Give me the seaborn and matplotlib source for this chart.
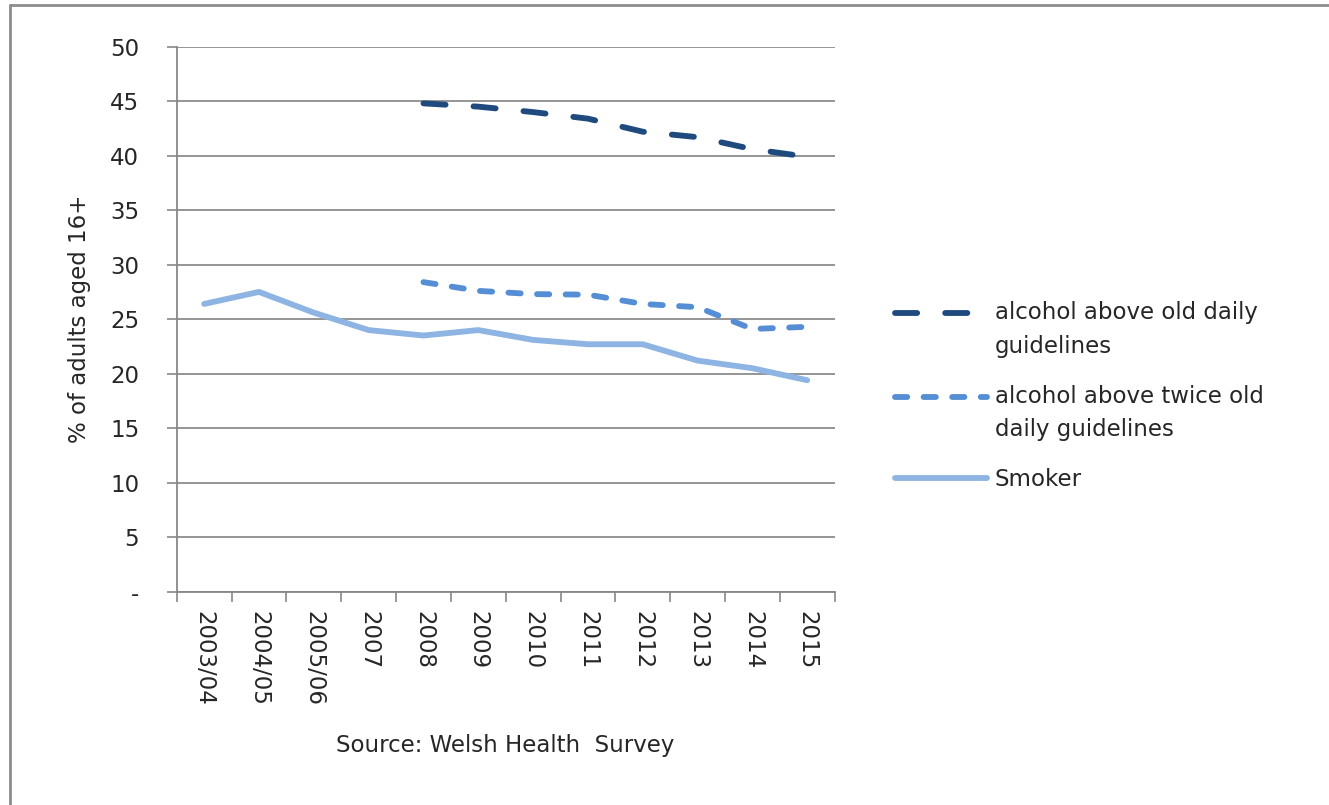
import numpy as np
import pandas as pd
import matplotlib
matplotlib.use('Agg')
import matplotlib.pyplot as plt
import seaborn as sns
from matplotlib.ticker import FuncFormatter, FixedLocator
from matplotlib.lines import Line2D

years = ['2003/04', '2004/05', '2005/06', '2007', '2008', '2009',
         '2010', '2011', '2012', '2013', '2014', '2015']
alcohol_old = [np.nan, np.nan, np.nan, np.nan, 44.8, 44.5, 44.0, 43.4, 42.2, 41.7, 40.6, 39.9]
alcohol_twice = [np.nan, np.nan, np.nan, np.nan, 28.4, 27.6, 27.3, 27.25, 26.4, 26.1, 24.1, 24.3]
smoker = [26.4, 27.5, 25.6, 24.0, 23.5, 24.0, 23.1, 22.7, 22.7, 21.2, 20.5, 19.4]

series_names = ['alcohol above old daily\nguidelines',
                'alcohol above twice old\ndaily guidelines',
                'Smoker']
colors = ['#1F4A7E', '#558ED5', '#8DB4E2']

rows = []
for name, vals in zip(series_names, [alcohol_old, alcohol_twice, smoker]):
    for i, v in enumerate(vals):
        if not np.isnan(v):
            rows.append({'pos': i, 'value': v, 'series': name})
df = pd.DataFrame(rows)

sns.set_style('white')
plt.rcParams['font.family'] = ['DejaVu Sans']
FS = 16.5
TXT = '#262626'

fig = plt.figure(figsize=(13.29, 8.05), dpi=100)
ax = fig.add_axes([0.133, 0.265, 0.495, 0.677])

lw = 4.2
dark_dash = (3.8, 4.8)
mid_dash = (2.1, 2.8)
dashes = {series_names[0]: dark_dash, series_names[1]: mid_dash, series_names[2]: ''}
sns.lineplot(data=df, x='pos', y='value', hue='series', style='series',
             hue_order=series_names, style_order=series_names,
             palette=dict(zip(series_names, colors)), dashes=dashes,
             linewidth=lw, legend=False, ax=ax)
for ln in ax.get_lines():
    ln.set_dash_capstyle('round')
    ln.set_solid_capstyle('round')
    ln.set_solid_joinstyle('round')

ax.set_xlim(-0.5, len(years) - 0.5)
ax.set_ylim(0, 50)
ax.set_yticks(np.arange(0, 51, 5))
ax.yaxis.set_major_formatter(FuncFormatter(lambda v, p: '-' if v == 0 else f'{int(v)}'))
ax.set_xticks(np.arange(len(years)))
ax.set_xticklabels(years, rotation=-90, fontsize=FS, color=TXT)
ax.xaxis.set_minor_locator(FixedLocator(np.arange(-0.5, len(years), 1.0)))
ax.tick_params(axis='x', which='major', length=0, pad=14)
ax.tick_params(axis='x', which='minor', length=7, width=1.2, color='#888888', direction='out', bottom=True)
ax.tick_params(axis='y', length=7, width=1.2, color='#888888', direction='out', left=True,
               labelsize=FS, labelcolor=TXT, pad=20)

ax.grid(axis='y', color='#8c8c8c', linewidth=1.3)
ax.set_axisbelow(True)
for side in ['top', 'right']:
    ax.spines[side].set_visible(False)
for side in ['left', 'bottom']:
    ax.spines[side].set_color('#888888')
    ax.spines[side].set_linewidth(1.3)

ax.set_ylabel('% of adults aged 16+', fontsize=FS, color=TXT, labelpad=14)
ax.set_xlabel('Source: Welsh Health  Survey', fontsize=FS, color=TXT, labelpad=20)

handles = [
    Line2D([], [], color=colors[0], lw=lw, dashes=dark_dash, dash_capstyle='round'),
    Line2D([], [], color=colors[1], lw=lw, dashes=mid_dash, dash_capstyle='round'),
    Line2D([], [], color=colors[2], lw=lw, solid_capstyle='round'),
]
leg = fig.legend(handles, series_names, loc='center left', bbox_to_anchor=(0.658, 0.508),
                 frameon=False, fontsize=FS, labelcolor=TXT, handlelength=4.0,
                 handletextpad=0.35, labelspacing=1.15)
for t in leg.get_texts():
    t.set_linespacing(1.6)
# put the handle next to the first text line, as Excel does
for h, name in zip(leg.legend_handles, series_names):
    if '\n' in name:
        h.set_ydata(np.asarray(h.get_ydata()) + 12.5)

# outer frame
fig.add_artist(Line2D([0.0075, 1.0], [0.994, 0.994], transform=fig.transFigure, color='#8c8c8c', lw=2))
fig.add_artist(Line2D([0.0075, 0.0075], [0.0, 0.994], transform=fig.transFigure, color='#8c8c8c', lw=2))

fig.savefig('out.png', dpi=100)
